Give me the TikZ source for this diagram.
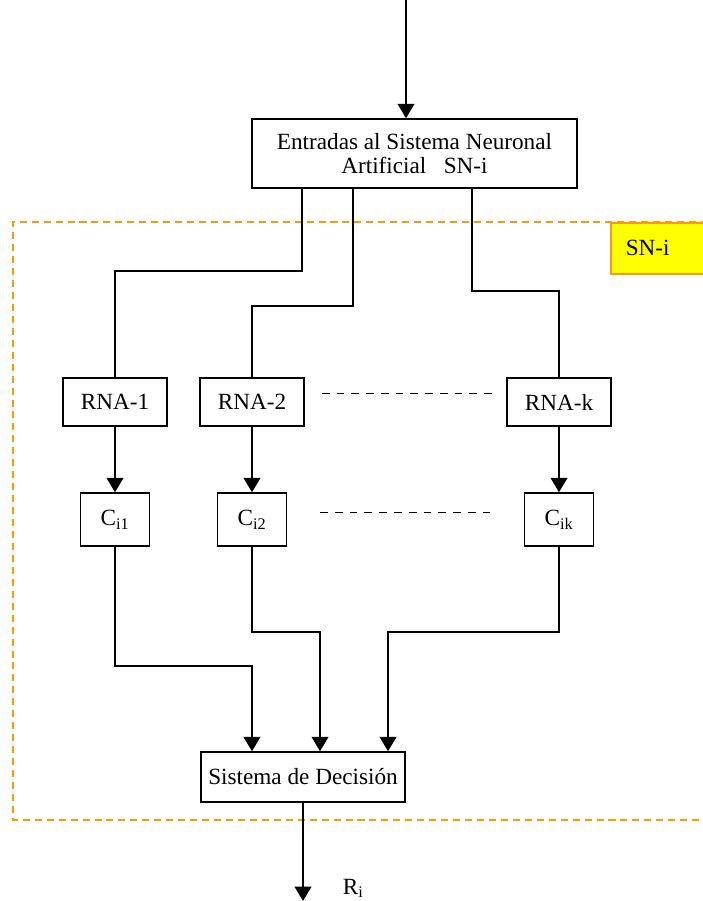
\documentclass[tikz,border=0pt]{standalone}
\usepackage{fontspec}
\setmainfont{Liberation Serif}
\usepackage{tikz}
\usetikzlibrary{arrows.meta,positioning,calc}
\definecolor{myorange}{RGB}{255,153,0}
\definecolor{myyellow}{RGB}{255,255,0}

\begin{document}
\begin{tikzpicture}[x=0.025cm, y=-0.025cm,
    font=\fontsize{16.5}{16.5}\selectfont, line width=1.1pt,
    caja/.style={draw, inner sep=0pt, align=center},
    flecha/.style={-{Triangle[width=0.42cm,length=0.36cm]}},
    puntos/.style={dash pattern=on 5.5pt off 5pt, line width=0.6pt}]
  \clip (0,0) rectangle (703,901);

  % zona SN-i
  \draw[myorange, dash pattern=on 5pt off 3.5pt, line width=1.4pt]
    (720,222) -| (13,820) -- (720,820);
  \node[anchor=north west, draw=myorange, fill=myyellow, line width=1.1pt,
        minimum height=1.275cm, text width=2cm, inner xsep=0.375cm,
        align=left] (zona) at (610,222) {SN-i};

  % bloques
  \node[caja, minimum width=8.125cm, minimum height=1.725cm] (entrada)
    at (414.5,153.5) {Entradas al Sistema Neuronal\\Artificial~~~SN-i};
  \node[caja, minimum width=2.6cm, minimum height=1.2cm] (rna1) at (115,402) {RNA-1};
  \node[caja, minimum width=2.6cm, minimum height=1.2cm] (rna2) at (252,402) {RNA-2};
  \node[caja, minimum width=2.6cm, minimum height=1.2cm] (rnak) at (559,402) {RNA-k};
  \node[caja, minimum width=1.72cm, minimum height=1.325cm] (c1) at (115,519.5) {C\textsubscript{i1}};
  \node[caja, minimum width=1.72cm, minimum height=1.325cm] (c2) at (252,519.5) {C\textsubscript{i2}};
  \node[caja, minimum width=1.72cm, minimum height=1.325cm] (ck) at (559,519.5) {C\textsubscript{ik}};
  \node[caja, minimum width=5.1cm, minimum height=1.25cm] (decision) at (303,777) {Sistema de Decisión};

  \coordinate (arriba) at (406,0);
  \coordinate (salida) at (303,901);
  \node[anchor=base west, inner sep=0pt] (ri) at (342,894) {R\textsubscript{i}};

  % conexiones
  \draw[flecha] (arriba) -- (arriba |- entrada.north);
  \draw ([xshift=1.275cm]entrada.south west) -- ++(0,82) -| (rna1.north);
  \draw ([xshift=2.55cm]entrada.south west) -- ++(0,117) -| (rna2.north);
  \draw ([xshift=5.525cm]entrada.south west) -- ++(0,102) -| (rnak.north);

  \draw[flecha] (rna1.south) -- (c1.north);
  \draw[flecha] (rna2.south) -- (c2.north);
  \draw[flecha] (rnak.south) -- (ck.north);
  \draw[puntos] ($(rna2.east)+(17,-9)$) -- ($(rnak.west)+(-10,-9)$);
  \draw[puntos] ($(c2.east)+(33,-7)$) -- ($(ck.west)+(-29,-7)$);

  \draw[flecha] (c1.south) -- ++(0,119) -| ([xshift=-1.275cm]decision.north);
  \draw[flecha] (c2.south) -- ++(0,85) -| ([xshift=0.425cm]decision.north);
  \draw[flecha] (ck.south) -- ++(0,85) -| ([xshift=2.125cm]decision.north);
  \draw[flecha] (decision.south) -- (salida);
\end{tikzpicture}
\end{document}
